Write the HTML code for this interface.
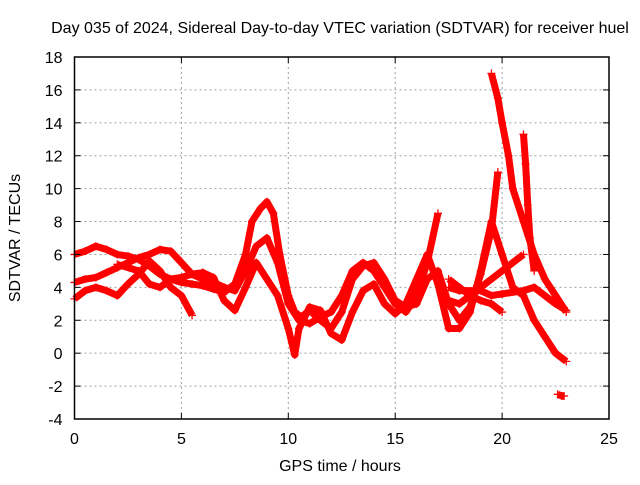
<!DOCTYPE html>
<html><head><meta charset="utf-8"><style>
body{margin:0;background:#fff}
svg text{font-family:"Liberation Sans",sans-serif;font-size:16px;fill:#000}
</style></head><body>
<svg id="c" width="640" height="480">
<rect width="640" height="480" fill="#fff"/>
<text x="340" y="33" text-anchor="middle">Day 035 of 2024, Sidereal Day-to-day VTEC variation (SDTVAR) for receiver huel</text>
<g id="grid"></g><g id="series"></g><g id="axes"></g>
<text x="340" y="471" text-anchor="middle">GPS time / hours</text>
<text transform="translate(20,238) rotate(-90)" text-anchor="middle">SDTVAR / TECUs</text>
</svg>
<script>
const xTicks=[0,5,10,15,20,25];
const yTicks=[-4,-2,0,2,4,6,8,10,12,14,16,18];
const trackA=[[0,6.0],[0.5,6.2],[1,6.5],[1.5,6.3],[2,6.0],[2.5,5.9],[3,5.7],[3.5,5.3],[4,4.8],[4.5,4.5],[5,4.3],[5.5,4.2],[6,4.1],[6.5,3.9],[7,3.7],[7.5,4.2],[8,6.0],[8.3,8.0],[8.7,8.8],[9,9.2],[9.3,8.5],[9.6,6.0],[10,3.5],[10.3,2.5],[10.6,2.2],[11,2.6],[11.5,2.0],[12,1.5],[12.5,2.5],[13,4.5],[13.5,5.3],[14,5.5],[14.5,4.5],[15,3.2],[15.5,2.8],[16,3.0],[16.5,4.5],[17,5.0],[17.5,3.0],[18,2.0],[18.5,2.8],[19,4.8],[19.5,7.5],[19.8,11.0]];
const trackB=[[0,4.3],[0.5,4.5],[1,4.6],[1.5,4.9],[2,5.2],[2.5,5.5],[3,5.8],[3.5,6.0],[4,6.3],[4.5,6.2],[5,5.5],[5.5,4.8],[6,4.5],[6.5,4.3],[7,4.0],[7.5,3.8],[8,5.0],[8.5,6.5],[9,7.0],[9.5,5.5],[10,3.0],[10.5,2.0],[11,1.8],[11.5,2.2],[12,2.5],[12.5,3.5],[13,5.0],[13.5,5.5],[14,5.0],[14.5,4.0],[15,3.0],[15.5,2.5],[16,3.5],[16.5,5.5],[17,8.5]];
const trackC=[[0,3.3],[0.5,3.8],[1,4.0],[1.5,3.8],[2,3.5],[2.5,4.2],[3,4.8],[3.5,5.6],[4,5.0],[4.5,4.0],[5,3.5],[5.5,2.3]];
const trackD=[[2,5.4],[3,5.0],[3.5,4.2],[4,4.0],[4.5,4.5],[5,4.6],[5.5,4.8],[6,4.9],[6.5,4.6],[7,3.2],[7.5,2.6],[8,4.0],[8.5,5.5],[9,4.5],[9.5,3.5],[10,1.5],[10.3,-0.1],[10.5,1.5],[11,2.8],[11.5,2.6],[12,1.2],[12.5,0.8],[13,2.5],[13.5,3.8],[14,4.2],[14.5,3.0],[15,2.4],[15.5,3.0],[16,4.5],[16.5,6.0],[17,4.2],[17.5,1.5],[18,1.5],[18.5,2.5],[19,5.0],[19.5,8.0],[20,6.0],[20.5,4.0],[21,3.5],[21.5,2.0],[22,1.0],[22.5,0.0],[23,-0.5]];
const trackE=[[19.5,17.0],[19.8,15.5],[20,14.0],[20.3,12.0],[20.5,10.0],[21,8.0],[21.5,6.0],[22,4.5],[22.5,3.5],[23,2.5]];
const trackF=[[17.5,3.2],[18,3.0],[18.5,3.5],[19,4.0],[19.5,4.5],[20,5.0],[20.5,5.5],[21,6.0]];
const trackG=[[17.5,4.0],[18,3.8],[19,3.8],[19.5,3.5],[20,3.6],[21,3.8],[21.5,4.0],[22,3.5],[22.5,3.0],[23,2.6]];
const trackH=[[17.5,4.5],[18,4.0],[18.5,3.5],[19,3.2],[19.5,3.0],[20,2.5]];
const trackI=[[21,13.3],[21.1,11.5],[21.2,9.0],[21.3,7.0],[21.5,5.0]];
const trackJ=[[22.6,-2.5],[22.8,-2.6],[22.9,-2.6]];
const tracks=[trackA,trackB,trackC,trackD,trackE,trackF,trackG,trackH,trackI,trackJ];
const L=74.5,R=609,T=57,B=419;
const sx=v=>L+(v-0)/25*(R-L), sy=v=>B-(v+4)/22*(B-T);
const NS="http://www.w3.org/2000/svg";
function mk(t,a,p){const e=document.createElementNS(NS,t);for(const k in a)e.setAttribute(k,a[k]);p.appendChild(e);return e;}
const grid=document.getElementById('grid'),axes=document.getElementById('axes'),ser=document.getElementById('series');
xTicks.forEach(v=>{const x=sx(v);
 if(v>0&&v<25){const g=mk('line',{x1:x,x2:x,y1:T,y2:B,stroke:'#a0a0a0','stroke-dasharray':'2,3'},grid);
 
 }
 mk('line',{x1:x,x2:x,y1:B,y2:B-6,stroke:'#000'},axes);mk('line',{x1:x,x2:x,y1:T,y2:T+6,stroke:'#000'},axes);
 const t=mk('text',{x:x,y:B+25,'text-anchor':'middle'},axes);t.textContent=v;
 
 });
yTicks.forEach(v=>{const y=sy(v);
 if(v>-4&&v<18){const g=mk('line',{x1:L,x2:R,y1:y,y2:y,stroke:'#a0a0a0','stroke-dasharray':'2,3'},grid);
 
 }
 mk('line',{x1:L,x2:L+6,y1:y,y2:y,stroke:'#000'},axes);mk('line',{x1:R,x2:R-6,y1:y,y2:y,stroke:'#000'},axes);
 const t=mk('text',{x:L-12,y:y+6,'text-anchor':'end'},axes);t.textContent=v;
 
 });
const fr=mk('rect',{x:L,y:T,width:R-L,height:B-T,fill:'none',stroke:'#000','stroke-width':1.5},axes);


tracks.forEach(tr=>{
 const pl=mk('polyline',{points:tr.map(p=>sx(p[0])+','+sy(p[1])).join(' '),fill:'none',stroke:'#f00','stroke-width':7,'stroke-linejoin':'round'},ser);
 
 
 tr.forEach(p=>{const x=sx(p[0]),y=sy(p[1]);
  const m=mk('path',{d:`M${x-4},${y}h8M${x},${y-4}v8`,stroke:'#f00','stroke-width':1.3},ser);
  
  });
});
</script>
</body></html>
